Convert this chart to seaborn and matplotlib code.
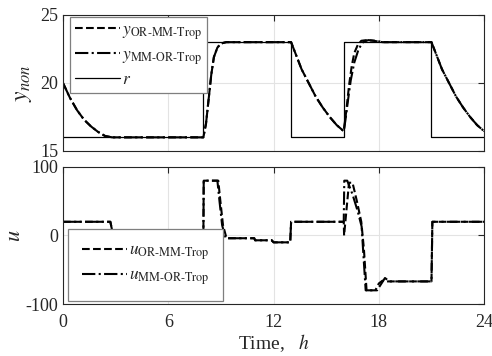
import pandas as pd
import seaborn as sns
import matplotlib.pyplot as plt

# Reference signal r (step changes)
t_r = [0, 8, 8, 13, 13, 16, 16, 21, 21, 24]
r = [16, 16, 23, 23, 16, 16, 23, 23, 16, 16]

# Output y, OR-MM-Trop (dashed)
t_y_or = [0, 0.4, 0.8, 1.2, 1.6, 2.0, 2.4, 2.8, 8.0, 8.15, 8.3, 8.45, 8.6, 8.8, 9.0, 9.3,
          13.0, 13.3, 13.6, 14.0, 14.4, 14.8, 15.2, 15.6, 16.0,
          16.15, 16.3, 16.45, 16.6, 16.8, 17.0, 17.3, 17.7, 18.2,
          21.0, 21.3, 21.6, 22.0, 22.4, 22.8, 23.2, 23.6, 24.0]
y_or = [20, 18.9, 18.0, 17.3, 16.8, 16.4, 16.1, 16.0, 16.0, 17.0, 18.8, 20.6, 21.9, 22.6, 22.9, 23.0,
        23.0, 22.0, 21.0, 20.0, 19.0, 18.2, 17.5, 16.9, 16.45,
        18.0, 19.8, 21.2, 22.2, 22.8, 23.1, 23.15, 23.1, 23.0,
        23.0, 22.0, 21.0, 20.0, 19.0, 18.2, 17.5, 16.9, 16.45]

# Output y, MM-OR-Trop (dash-dot)
t_y_mm = [0, 0.4, 0.8, 1.2, 1.6, 2.0, 2.4, 2.8, 8.0, 8.15, 8.3, 8.45, 8.6, 8.8, 9.0, 9.3,
          13.0, 13.3, 13.6, 14.0, 14.4, 14.8, 15.2, 15.6, 16.0,
          16.1, 16.25, 16.4, 16.6, 16.85, 17.1, 17.4, 17.8, 18.3,
          21.0, 21.3, 21.6, 22.0, 22.4, 22.8, 23.2, 23.6, 24.0]
y_mm = [20, 18.9, 18.0, 17.3, 16.8, 16.4, 16.1, 16.0, 16.0, 17.0, 18.8, 20.6, 21.9, 22.6, 22.9, 23.0,
        23.0, 22.0, 21.0, 20.0, 19.0, 18.2, 17.5, 16.9, 16.45,
        17.3, 18.8, 20.2, 21.5, 22.5, 23.0, 23.15, 23.1, 23.0,
        23.0, 22.0, 21.0, 20.0, 19.0, 18.2, 17.5, 16.9, 16.45]

# Control input u, OR-MM-Trop (dashed)
t_u_or = [0, 2.7, 2.9, 8.0, 8.02, 8.85, 8.97, 9.12, 9.32, 10.9, 10.95, 11.9, 12.0, 12.95, 13.0,
          16.0, 16.02, 16.3, 16.5, 16.75, 17.0, 17.15, 17.3, 17.8, 18.0, 18.2, 18.5, 21.0, 21.05, 24]
u_or = [20, 20, -5, -5, 80, 80, 50, 15, -4, -4, -7, -7, -10, -10, 20,
        20, 0, 77, 77, 50, 20, -20, -80, -80, -70, -66, -67, -67, 20, 20]

# Control input u, MM-OR-Trop (dash-dot)
t_u_mm = [0, 2.7, 2.9, 8.0, 8.02, 8.8, 8.92, 9.07, 9.27, 10.9, 10.95, 11.9, 12.0, 12.95, 13.0,
          16.0, 16.03, 16.2, 16.5, 16.8, 17.02, 17.1, 17.25, 17.9, 18.1, 18.35, 18.6, 21.0, 21.05, 24]
u_mm = [20, 20, -5, -5, 80, 80, 50, 15, -4, -4, -7, -7, -10, -10, 20,
        20, 80, 80, 60, 35, 13, -20, -80, -80, -72, -62, -67, -67, 20, 20]

sns.set_style("whitegrid")
plt.rcParams['font.family'] = ['Liberation Serif', 'DejaVu Serif']
plt.rcParams['mathtext.fontset'] = 'stix'

fig = plt.figure(figsize=(4.92, 3.56), dpi=100)
ax1 = fig.add_axes([0.128, 0.576, 0.856, 0.382])
ax2 = fig.add_axes([0.128, 0.146, 0.856, 0.385])

lw = 1.5
# Top panel: outputs and reference
sns.lineplot(x=t_y_or, y=y_or, ax=ax1, color='black', linestyle='--', linewidth=lw,
             estimator=None, sort=False, label=r'$y_{\mathrm{OR\text{-}MM\text{-}Trop}}$')
sns.lineplot(x=t_y_mm, y=y_mm, ax=ax1, color='black', linestyle='-.', linewidth=lw,
             estimator=None, sort=False, label=r'$y_{\mathrm{MM\text{-}OR\text{-}Trop}}$')
sns.lineplot(x=t_r, y=r, ax=ax1, color='black', linestyle='-', linewidth=0.9,
             estimator=None, sort=False, label=r'$r$')

# Bottom panel: control inputs
sns.lineplot(x=t_u_or, y=u_or, ax=ax2, color='black', linestyle='--', linewidth=lw,
             estimator=None, sort=False, label=r'$u_{\mathrm{OR\text{-}MM\text{-}Trop}}$')
sns.lineplot(x=t_u_mm, y=u_mm, ax=ax2, color='black', linestyle='-.', linewidth=lw,
             estimator=None, sort=False, label=r'$u_{\mathrm{MM\text{-}OR\text{-}Trop}}$')

ax1.set_ylim(15, 25)
ax1.set_yticks([15, 20, 25])
ax2.set_ylim(-100, 100)
ax2.set_yticks([-100, 0, 100])
ax2.set_yticklabels(['-100', '0', '100'])
for ax in (ax1, ax2):
    ax.set_xlim(0, 24)
    ax.set_xticks([0, 6, 12, 18, 24])
    ax.grid(True, color='#e3e3e3', linewidth=0.8)
    ax.tick_params(direction='in', top=True, right=True, length=4, width=0.8,
                   labelsize=13, colors='#262626', labelcolor='#262626')
    ax.tick_params(axis='x', pad=7)
    for s in ax.spines.values():
        s.set_color('#262626')
        s.set_linewidth(0.8)
ax1.tick_params(labelbottom=False)

ax1.set_ylabel(r'$y_{non}$', fontsize=17, labelpad=4)
ax2.set_ylabel(r'$u$', fontsize=16, labelpad=0)
ax2.set_xlabel(r'Time,   $h$', fontsize=14, labelpad=1)

leg1 = ax1.legend(loc='upper left', bbox_to_anchor=(0.017, 0.985), borderaxespad=0,
                  fontsize=12.5, fancybox=False, framealpha=1, edgecolor='#7f7f7f',
                  handlelength=2.6, handletextpad=0.1, labelspacing=0.3, borderpad=0.3)
leg2 = ax2.legend(loc='lower left', bbox_to_anchor=(0.012, 0.022), borderaxespad=0,
                  fontsize=12.5, fancybox=False, framealpha=1, edgecolor='#7f7f7f',
                  handlelength=2.6, handletextpad=0.1, labelspacing=0.3, borderpad=0.8)
for leg in (leg1, leg2):
    leg.get_frame().set_linewidth(0.9)

fig.savefig('out.png', dpi=100)
